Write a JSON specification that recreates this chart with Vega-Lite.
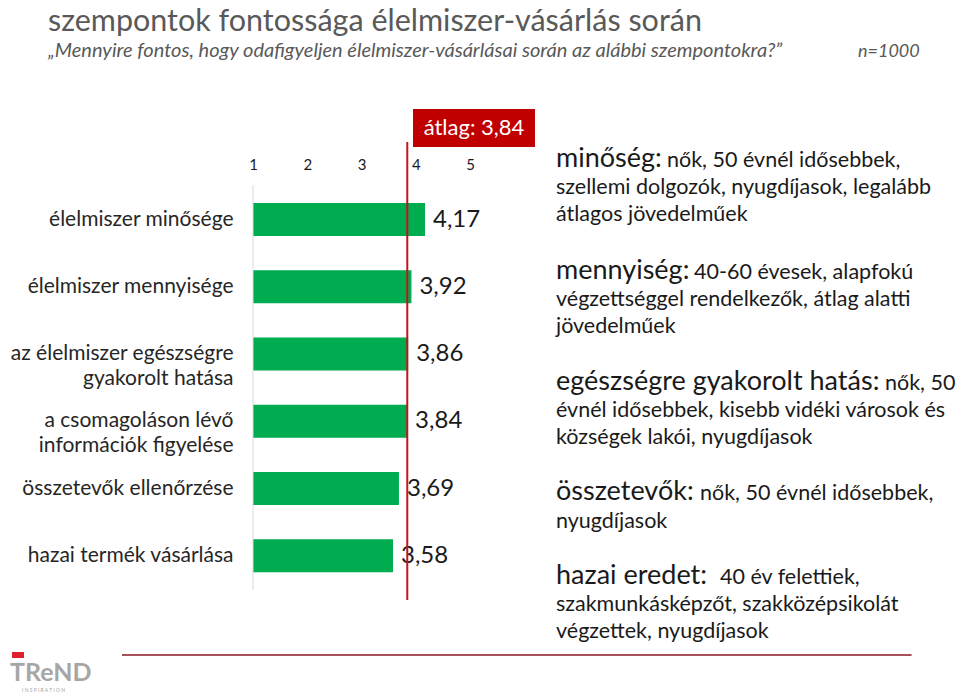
{
  "$schema": "https://vega.github.io/schema/vega-lite/v6.json",
  "autosize": {"type": "none"},
  "width": 707,
  "height": 458,
  "padding": {"left": 253, "top": 142, "right": 0, "bottom": 93},
  "background": "white",
  "config": {
    "view": {"stroke": null},
    "locale": {"number": {"decimal": ",", "thousands": "\u00a0", "grouping": [3], "currency": ["", ""]}},
    "style": {
      "head": {"font": "Lato", "fontSize": 27, "color": "#1a1a1a", "align": "left", "baseline": "alphabetic"},
      "body": {"font": "Lato", "fontSize": 21.5, "color": "#1a1a1a", "align": "left", "baseline": "alphabetic"}
    }
  },
  "layer": [
    {
      "data": {"values": [
        {"aspect": "élelmiszer minősége", "value": 4.17},
        {"aspect": "élelmiszer mennyisége", "value": 3.92},
        {"aspect": "az élelmiszer egészségre gyakorolt hatása", "value": 3.86},
        {"aspect": "a csomagoláson lévő információk figyelése", "value": 3.84},
        {"aspect": "összetevők ellenőrzése", "value": 3.69},
        {"aspect": "hazai termék vásárlása", "value": 3.58}
      ]},
      "layer": [
        {
          "mark": {"type": "bar", "color": "#00AC50"},
          "encoding": {
            "y": {"field": "aspect", "type": "nominal", "sort": null,
              "scale": {"paddingInner": 0.509, "paddingOuter": 0.66, "align": 0.688},
              "axis": {"title": null, "ticks": false, "tickSize": 0, "domain": false, "labelPadding": 20,
                "labelFontSize": 21, "labelFont": "Lato", "labelColor": "#262626", "labelLimit": 400,
                "labelLineHeight": 25,
                "labelExpr": "datum.label == 'az élelmiszer egészségre gyakorolt hatása' ? ['az élelmiszer egészségre', 'gyakorolt hatása'] : datum.label == 'a csomagoláson lévő információk figyelése' ? ['a csomagoláson lévő', 'információk figyelése'] : datum.label"}},
            "x": {"field": "value", "type": "quantitative",
              "scale": {"domain": [1, 14.03], "nice": false, "zero": false},
              "axis": {"orient": "top", "values": [1, 2, 3, 4, 5], "format": "d", "title": null, "grid": false,
                "ticks": false, "tickSize": 0, "domain": false, "labelFontSize": 15, "labelFont": "Lato",
                "labelColor": "#1a1a1a", "labelPadding": 0, "labelBaseline": "middle", "labelFlush": false, "offset": -22}},
            "x2": {"datum": 1}
          }
        },
        {
          "mark": {"type": "text", "align": "left", "baseline": "middle", "dx": 8, "fontSize": 24, "font": "Lato", "color": "#1a1a1a"},
          "encoding": {
            "y": {"field": "aspect", "type": "nominal", "sort": null},
            "x": {"field": "value", "type": "quantitative"},
            "text": {"field": "value", "type": "quantitative", "format": ".2f"}
          }
        },
        {
          "mark": {"type": "rule", "color": "#C0141B", "strokeWidth": 2},
          "encoding": {"x": {"aggregate": "mean", "field": "value", "type": "quantitative"}}
        }
      ]
    },
    {
      "data": {"values": [{}]},
      "layer": [
        {"mark": {"type": "text", "font": "Lato", "fontSize": 30.5, "color": "#595959", "align": "left", "baseline": "alphabetic"},
          "encoding": {"x": {"datum": -2.778, "type": "quantitative"}, "y": {"datum": 124.34, "type": "quantitative", "scale": {"domain": [0, 100], "nice": false, "zero": false}, "axis": null},
            "text": {"value": "szempontok fontossága élelmiszer-vásárlás során"}}},
        {"mark": {"type": "text", "font": "Lato", "fontSize": 20, "fontStyle": "italic", "color": "#595959", "align": "left", "baseline": "alphabetic"},
          "encoding": {"x": {"datum": -2.778, "type": "quantitative"}, "y": {"datum": 118.56, "type": "quantitative", "axis": null},
            "text": {"value": "„Mennyire fontos, hogy odafigyeljen élelmiszer-vásárlásai során az alábbi szempontokra?”"}}},
        {"mark": {"type": "text", "font": "Lato", "fontSize": 18, "fontStyle": "italic", "color": "#595959", "align": "left", "baseline": "alphabetic"},
          "encoding": {"x": {"datum": 12.15, "type": "quantitative"}, "y": {"datum": 118.56, "type": "quantitative", "axis": null},
            "text": {"value": "n=1000"}}},
        {"mark": {"type": "rect", "color": "#C00000"},
          "encoding": {"x": {"datum": 3.949, "type": "quantitative"}, "x2": {"datum": 6.197}, "y": {"datum": 107.21, "type": "quantitative", "axis": null}, "y2": {"datum": 98.91}}},
        {"mark": {"type": "text", "font": "Lato", "fontSize": 22, "color": "white", "align": "center", "baseline": "middle"},
          "encoding": {"x": {"datum": 5.073, "type": "quantitative"}, "y": {"datum": 103.06, "type": "quantitative", "axis": null},
            "text": {"value": "átlag: 3,84"}}},
        {"mark": {"type": "rule", "color": "#D9D9D9", "strokeWidth": 1},
          "encoding": {"x": {"datum": 1, "type": "quantitative"}, "y": {"datum": 90.61, "type": "quantitative", "axis": null}, "y2": {"datum": 2.18}}},

        {"mark": {"type": "text", "style": "head"}, "encoding": {"x": {"datum": 6.584, "type": "quantitative"}, "y": {"datum": 94.54, "type": "quantitative", "axis": null}, "text": {"value": "minőség:"}}},
        {"mark": {"type": "text", "style": "body"}, "encoding": {"x": {"datum": 8.63, "type": "quantitative"}, "y": {"datum": 94.54, "type": "quantitative", "axis": null}, "text": {"value": "nők, 50 évnél idősebbek,"}}},
        {"mark": {"type": "text", "style": "body"}, "encoding": {"x": {"datum": 6.584, "type": "quantitative"}, "y": {"datum": 88.65, "type": "quantitative", "axis": null}, "text": {"value": "szellemi dolgozók, nyugdíjasok, legalább"}}},
        {"mark": {"type": "text", "style": "body"}, "encoding": {"x": {"datum": 6.584, "type": "quantitative"}, "y": {"datum": 82.75, "type": "quantitative", "axis": null}, "text": {"value": "átlagos jövedelműek"}}},

        {"mark": {"type": "text", "style": "head"}, "encoding": {"x": {"datum": 6.584, "type": "quantitative"}, "y": {"datum": 70.09, "type": "quantitative", "axis": null}, "text": {"value": "mennyiség:"}}},
        {"mark": {"type": "text", "style": "body"}, "encoding": {"x": {"datum": 9.128, "type": "quantitative"}, "y": {"datum": 70.09, "type": "quantitative", "axis": null}, "text": {"value": "40-60 évesek, alapfokú"}}},
        {"mark": {"type": "text", "style": "body"}, "encoding": {"x": {"datum": 6.584, "type": "quantitative"}, "y": {"datum": 64.19, "type": "quantitative", "axis": null}, "text": {"value": "végzettséggel rendelkezők, átlag alatti"}}},
        {"mark": {"type": "text", "style": "body"}, "encoding": {"x": {"datum": 6.584, "type": "quantitative"}, "y": {"datum": 58.3, "type": "quantitative", "axis": null}, "text": {"value": "jövedelműek"}}},

        {"mark": {"type": "text", "style": "head"}, "encoding": {"x": {"datum": 6.584, "type": "quantitative"}, "y": {"datum": 45.85, "type": "quantitative", "axis": null}, "text": {"value": "egészségre gyakorolt hatás:"}}},
        {"mark": {"type": "text", "style": "body"}, "encoding": {"x": {"datum": 12.648, "type": "quantitative"}, "y": {"datum": 45.85, "type": "quantitative", "axis": null}, "text": {"value": "nők, 50"}}},
        {"mark": {"type": "text", "style": "body"}, "encoding": {"x": {"datum": 6.584, "type": "quantitative"}, "y": {"datum": 39.96, "type": "quantitative", "axis": null}, "text": {"value": "évnél idősebbek, kisebb vidéki városok és"}}},
        {"mark": {"type": "text", "style": "body"}, "encoding": {"x": {"datum": 6.584, "type": "quantitative"}, "y": {"datum": 34.06, "type": "quantitative", "axis": null}, "text": {"value": "községek lakói, nyugdíjasok"}}},

        {"mark": {"type": "text", "style": "head"}, "encoding": {"x": {"datum": 6.584, "type": "quantitative"}, "y": {"datum": 21.83, "type": "quantitative", "axis": null}, "text": {"value": "összetevők:"}}},
        {"mark": {"type": "text", "style": "body"}, "encoding": {"x": {"datum": 9.238, "type": "quantitative"}, "y": {"datum": 21.83, "type": "quantitative", "axis": null}, "text": {"value": "nők, 50 évnél idősebbek,"}}},
        {"mark": {"type": "text", "style": "body"}, "encoding": {"x": {"datum": 6.584, "type": "quantitative"}, "y": {"datum": 15.72, "type": "quantitative", "axis": null}, "text": {"value": "nyugdíjasok"}}},

        {"mark": {"type": "text", "style": "head"}, "encoding": {"x": {"datum": 6.584, "type": "quantitative"}, "y": {"datum": 3.49, "type": "quantitative", "axis": null}, "text": {"value": "hazai eredet:"}}},
        {"mark": {"type": "text", "style": "body"}, "encoding": {"x": {"datum": 9.607, "type": "quantitative"}, "y": {"datum": 3.49, "type": "quantitative", "axis": null}, "text": {"value": "40 év felettiek,"}}},
        {"mark": {"type": "text", "style": "body"}, "encoding": {"x": {"datum": 6.584, "type": "quantitative"}, "y": {"datum": -2.4, "type": "quantitative", "axis": null}, "text": {"value": "szakmunkásképzőt, szakközépsikolát"}}},
        {"mark": {"type": "text", "style": "body"}, "encoding": {"x": {"datum": 6.584, "type": "quantitative"}, "y": {"datum": -8.3, "type": "quantitative", "axis": null}, "text": {"value": "végzettek,  nyugdíjasok"}}},

        {"mark": {"type": "rule", "color": "#A8505C", "strokeWidth": 2},
          "encoding": {"x": {"datum": -1.414, "type": "quantitative"}, "x2": {"datum": 13.138}, "y": {"datum": -12.01, "type": "quantitative", "axis": null}}},
        {"mark": {"type": "rect", "color": "#E0202A"},
          "encoding": {"x": {"datum": -3.442, "type": "quantitative"}, "x2": {"datum": -3.22}, "y": {"datum": -11.35, "type": "quantitative", "axis": null}, "y2": {"datum": -12.66}}},
        {"mark": {"type": "text", "font": "Lato", "fontWeight": "bold", "fontSize": 25, "color": "#A6A6A6", "align": "left", "baseline": "alphabetic"},
          "encoding": {"x": {"datum": -3.478, "type": "quantitative"}, "y": {"datum": -17.69, "type": "quantitative", "axis": null}, "text": {"value": "TReND"}}},
        {"mark": {"type": "text", "font": "Lato", "fontSize": 5, "color": "#A6A6A6", "align": "left", "baseline": "alphabetic"},
          "encoding": {"x": {"datum": -3.257, "type": "quantitative"}, "y": {"datum": -20.09, "type": "quantitative", "axis": null}, "text": {"value": "I N S P I R A T I O N"}}}
      ]
    }
  ],
  "resolve": {"scale": {"y": "independent"}}
}
